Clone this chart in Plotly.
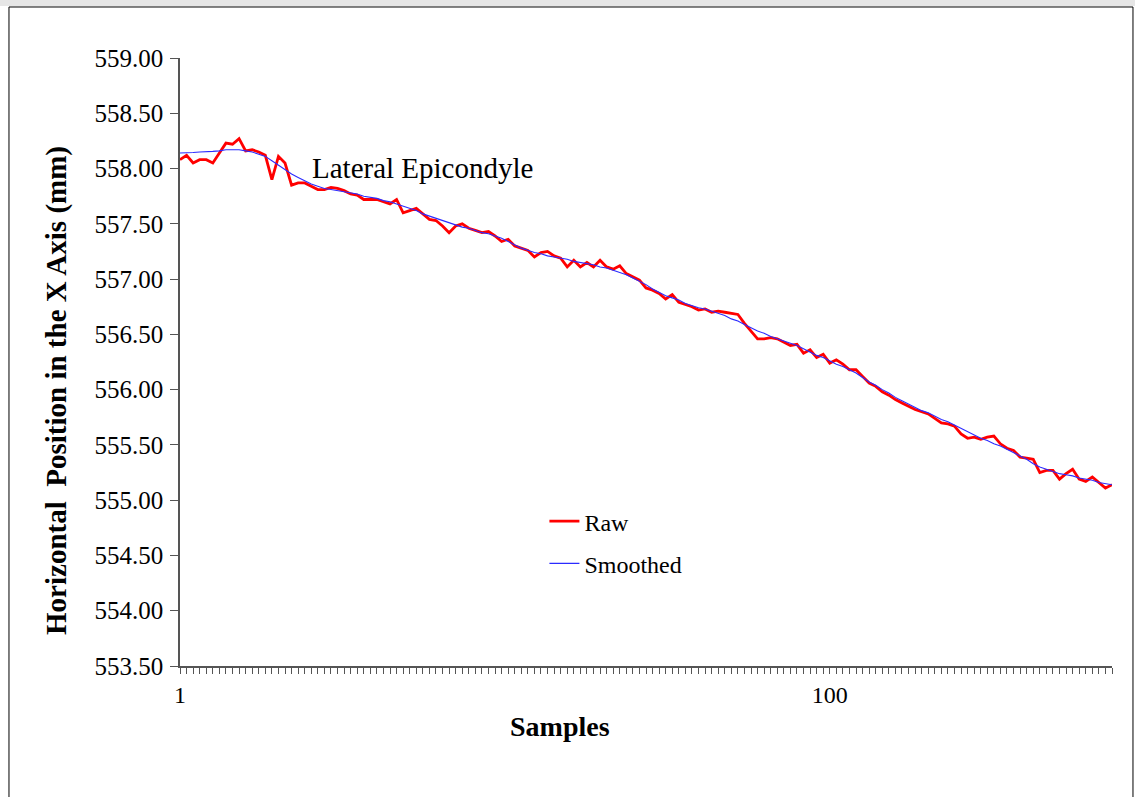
import plotly.graph_objects as go

# amostras (eixo de categorias 1..143)
samples = list(range(1, 144))

raw = [
    558.08, 558.12, 558.05, 558.08, 558.08, 558.05, 558.14, 558.23, 558.22, 558.27,
    558.16, 558.17, 558.15, 558.12, 557.90, 558.11, 558.05, 557.85, 557.87, 557.87,
    557.84, 557.81, 557.81, 557.83, 557.82, 557.80, 557.77, 557.76, 557.72, 557.72,
    557.72, 557.70, 557.68, 557.72, 557.60, 557.62, 557.64, 557.59, 557.54, 557.53,
    557.48, 557.42, 557.48, 557.50, 557.46, 557.44, 557.42, 557.43, 557.39, 557.34,
    557.36, 557.30, 557.28, 557.26, 557.20, 557.24, 557.25, 557.21, 557.19, 557.11,
    557.17, 557.11, 557.15, 557.11, 557.17, 557.11, 557.09, 557.12, 557.05, 557.02,
    556.99, 556.92, 556.90, 556.87, 556.82, 556.86, 556.79, 556.77, 556.75, 556.72,
    556.73, 556.70, 556.71, 556.70, 556.69, 556.68, 556.60, 556.53, 556.46, 556.46,
    556.47, 556.46, 556.43, 556.40, 556.41, 556.33, 556.36, 556.29, 556.32, 556.24,
    556.27, 556.23, 556.18, 556.18, 556.12, 556.06, 556.03, 555.98, 555.95, 555.91,
    555.88, 555.85, 555.82, 555.80, 555.78, 555.74, 555.70, 555.69, 555.67, 555.60,
    555.56, 555.57, 555.55, 555.57, 555.58, 555.51, 555.47, 555.45, 555.39, 555.38,
    555.37, 555.25, 555.27, 555.27, 555.19, 555.24, 555.28, 555.19, 555.17, 555.21,
    555.16, 555.11, 555.14,
]

smoothed = [
    558.14, 558.14, 558.145, 558.15, 558.15, 558.155, 558.16, 558.17, 558.17, 558.17,
    558.16, 558.15, 558.13, 558.11, 558.07, 558.03, 557.99, 557.95, 557.92, 557.89,
    557.86, 557.84, 557.82, 557.81, 557.80, 557.79, 557.78, 557.77, 557.75, 557.74,
    557.73, 557.71, 557.70, 557.68, 557.66, 557.64, 557.62, 557.59, 557.57, 557.55,
    557.53, 557.51, 557.49, 557.47, 557.46, 557.44, 557.42, 557.41, 557.39, 557.37,
    557.34, 557.31, 557.28, 557.26, 557.24, 557.23, 557.21, 557.20, 557.19, 557.18,
    557.16, 557.15, 557.14, 557.13, 557.11, 557.10, 557.08, 557.06, 557.04, 557.01,
    556.98, 556.95, 556.91, 556.88, 556.85, 556.83, 556.81, 556.78, 556.76, 556.74,
    556.73, 556.71, 556.69, 556.67, 556.64, 556.62, 556.59, 556.56, 556.53, 556.51,
    556.48, 556.46, 556.44, 556.42, 556.40, 556.37, 556.34, 556.31, 556.29, 556.26,
    556.23, 556.21, 556.18, 556.15, 556.11, 556.07, 556.04, 556.00, 555.97, 555.93,
    555.90, 555.87, 555.84, 555.81, 555.79, 555.76, 555.73, 555.71, 555.68, 555.65,
    555.62, 555.59, 555.56, 555.54, 555.51, 555.49, 555.46, 555.43, 555.40, 555.37,
    555.33, 555.30, 555.28, 555.26, 555.24, 555.23, 555.22, 555.20, 555.19, 555.18,
    555.16, 555.15, 555.14,
]

x_ticks = [1, 100]
y_ticks = [553.5 + 0.5 * k for k in range(12)]

fonte = 'Liberation Serif, Times New Roman, serif'
eixo = '#555555'

fig = go.Figure()
fig.add_trace(go.Scatter(x=samples, y=raw, mode='lines', name='Raw', legendgroup='a',
                         line=dict(color='#ff0000', width=2.8)))
fig.add_trace(go.Scatter(x=samples, y=smoothed, mode='lines', name='Smoothed', legendgroup='b',
                         line=dict(color='#2b2bff', width=1.1)))

fig.add_annotation(x=0.1395, y=0.819, xref='paper', yref='paper', xanchor='left', yanchor='middle',
                   text='Lateral Epicondyle', showarrow=False,
                   font=dict(family=fonte, size=29, color='black'))

# titulos dos eixos como anotacoes (no original nao estao centrados no grafico)
fig.add_annotation(x=0.4077, y=-0.1003, xref='paper', yref='paper', xanchor='center', yanchor='middle',
                   text='<b>Samples</b>', showarrow=False,
                   font=dict(family=fonte, size=28, color='black'))
fig.add_annotation(x=-0.132, y=0.454, xref='paper', yref='paper', xanchor='center', yanchor='middle',
                   text='<b>Horizontal  Position in the X Axis (mm)</b>', showarrow=False, textangle=-90,
                   font=dict(family=fonte, size=29, color='black'))

# moldura da imagem
fig.add_shape(type='rect', xref='paper', yref='paper', x0=-0.1931, x1=1.2, y0=1.0855, y1=1.1,
              line=dict(width=0), fillcolor='#e6e6e6', layer='below')
fig.add_shape(type='rect', xref='paper', yref='paper', x0=-0.1835, x1=1.0225, y0=-0.23, y1=1.0839,
              line=dict(color='black', width=1), layer='below')

fig.update_layout(
    width=1135, height=797,
    margin=dict(l=180, r=23, t=58, b=131),
    paper_bgcolor='white', plot_bgcolor='white',
    font=dict(family=fonte, size=24, color='black'),
    showlegend=True,
    legend=dict(x=0.391, y=0.2745, xanchor='left', yanchor='top', bgcolor='rgba(0,0,0,0)',
                font=dict(family=fonte, size=24), tracegroupgap=8),
    xaxis=dict(range=[1, 143], tickmode='array', tickvals=x_ticks, ticktext=['1', '100'],
               ticks='outside', ticklen=6, tickcolor=eixo, showline=True, linecolor=eixo, linewidth=1.5,
               showgrid=False, zeroline=False,
               minor=dict(dtick=1, tick0=1, ticks='outside', ticklen=6, tickcolor=eixo, showgrid=False)),
    yaxis=dict(range=[553.5, 559.0], tickmode='array', tickvals=y_ticks, tickformat='.2f',
               tickfont=dict(family=fonte, size=25), ticklabelstandoff=2,
               ticks='outside', ticklen=8, tickcolor=eixo, showline=True, linecolor=eixo, linewidth=1.5,
               showgrid=False, zeroline=False),
)

# tira a margem padrao do body para a figura ocupar a janela toda
fig.write_html("out.html", config={'displayModeBar': False},
               post_script="document.body.style.margin = '0';")
